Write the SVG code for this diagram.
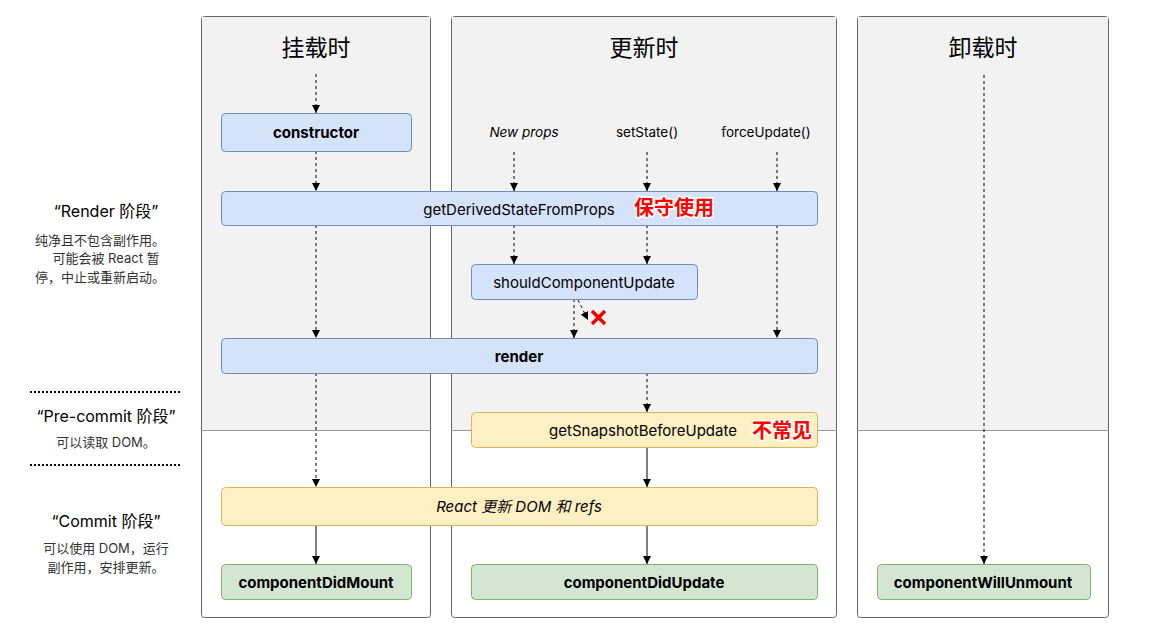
<svg xmlns="http://www.w3.org/2000/svg" width="1151" height="629" viewBox="0 0 1151 629">
<defs>
<marker id="arr" viewBox="0 0 10 10" refX="10" refY="5" markerWidth="8" markerHeight="8" markerUnits="userSpaceOnUse" orient="auto">
<path d="M0,0 L10,5 L0,10 Z" fill="#000"/>
</marker>
</defs>
<style>
text{font-family:"Inter","Liberation Sans","Noto Sans CJK SC",sans-serif;fill:#000}
.col{fill:#fff;stroke:#666;stroke-width:1}
.gray{fill:#f2f2f2}
.title{font-size:23px;text-anchor:middle}
.blue{fill:#d4e3fa;stroke:#6c8ebf;stroke-width:1}
.yel{fill:#fff0c4;stroke:#d6b656;stroke-width:1}
.grn{fill:#d3e6d2;stroke:#82b366;stroke-width:1}
.lbl{font-size:15px;text-anchor:middle;dominant-baseline:central}
.b{font-weight:bold}
.i{font-style:italic}
.sm{font-size:13.5px;text-anchor:middle;dominant-baseline:central}
.red{font-size:20px;font-weight:bold;fill:#ff0000;stroke:#fff;stroke-width:3px;paint-order:stroke;dominant-baseline:central}
.dash{stroke:#000;stroke-width:1;stroke-dasharray:3,3;fill:none;marker-end:url(#arr)}
.solid{stroke:#000;stroke-width:1;fill:none;marker-end:url(#arr)}
.ph{font-size:16px;text-anchor:middle;dominant-baseline:central}
.desc{font-size:13px;text-anchor:middle;dominant-baseline:central;fill:#333}
.dots{stroke:#000;stroke-width:2;stroke-dasharray:2,2}
</style>
<g id="columns">
<rect class="col" x="201.5" y="16.5" width="229" height="601" rx="3"/>
<path class="gray" d="M202,17 H430 V430 H202 Z"/>
<rect class="col" x="451.5" y="16.5" width="385" height="601" rx="3"/>
<path class="gray" d="M452,17 H836 V430 H452 Z"/>
<rect class="col" x="857.5" y="16.5" width="251" height="601" rx="3"/>
<path class="gray" d="M858,17 H1108 V430 H858 Z"/>
<line x1="201" y1="430.5" x2="431" y2="430.5" stroke="#999"/>
<line x1="451" y1="430.5" x2="837" y2="430.5" stroke="#999"/>
<line x1="857" y1="430.5" x2="1109" y2="430.5" stroke="#999"/>
<text class="title" x="316" y="56">挂载时</text>
<text class="title" x="644" y="56">更新时</text>
<text class="title" x="983" y="56">卸载时</text>
</g>
<g id="phases">
<text class="ph" x="106" y="211">“Render 阶段”</text>
<text class="desc" x="100" y="240">纯净且不包含副作用。</text>
<text class="desc" x="106" y="258">可能会被 React 暂</text>
<text class="desc" x="100" y="277">停，中止或重新启动。</text>
<line class="dots" x1="30" y1="392" x2="181" y2="392"/>
<text class="ph" x="106" y="416">“Pre-commit 阶段”</text>
<text class="desc" x="106" y="442">可以读取 DOM。</text>
<line class="dots" x1="30" y1="465" x2="181" y2="465"/>
<text class="ph" x="106" y="521">“Commit 阶段”</text>
<text class="desc" x="106" y="548">可以使用 DOM，运行</text>
<text class="desc" x="106" y="567">副作用，安排更新。</text>
</g>
<g id="triggers">
<text class="sm i" x="524" y="132">New props</text>
<text class="sm" x="647" y="132">setState()</text>
<text class="sm" x="766" y="132">forceUpdate()</text>
</g>
<g id="connectors">
<line class="dash" x1="316" y1="74" x2="316" y2="113"/>
<line class="dash" x1="316" y1="151" x2="316" y2="191"/>
<line class="dash" x1="316" y1="225" x2="316" y2="338"/>
<line class="dash" x1="316" y1="373" x2="316" y2="487"/>
<line class="solid" x1="316" y1="525" x2="316" y2="564"/>
<line class="dash" x1="514" y1="152" x2="514" y2="191"/>
<line class="dash" x1="647" y1="152" x2="647" y2="191"/>
<line class="dash" x1="777" y1="152" x2="777" y2="191"/>
<line class="dash" x1="514" y1="225" x2="514" y2="264"/>
<line class="dash" x1="647" y1="225" x2="647" y2="264"/>
<line class="dash" x1="777" y1="225" x2="777" y2="338"/>
<line class="dash" x1="574" y1="299" x2="574" y2="338"/>
<line class="dash" x1="578" y1="300" x2="588" y2="320"/>
<line class="dash" x1="647" y1="373" x2="647" y2="412"/>
<line class="solid" x1="647" y1="447" x2="647" y2="487"/>
<line class="solid" x1="647" y1="525" x2="647" y2="564"/>
<line class="dash" x1="984" y1="75" x2="984" y2="564"/>
<path d="M592,311 L605,324 M605,311 L592,324" stroke="#e00" stroke-width="3.5" fill="none"/>
</g>
<g id="constructor">
<rect class="blue" x="221.5" y="113.5" width="190" height="38" rx="4"/>
<text class="lbl b" x="316" y="132">constructor</text>
</g>
<g id="getDerivedStateFromProps">
<rect class="blue" x="221.5" y="191.5" width="596" height="34" rx="4"/>
<text class="lbl" x="519" y="209">getDerivedStateFromProps</text>
<text class="red" x="634" y="208">保守使用</text>
</g>
<g id="shouldComponentUpdate">
<rect class="blue" x="471.5" y="264.5" width="226" height="35" rx="4"/>
<text class="lbl" x="584" y="282">shouldComponentUpdate</text>
</g>
<g id="render">
<rect class="blue" x="221.5" y="338.5" width="596" height="35" rx="4"/>
<text class="lbl b" x="519" y="356">render</text>
</g>
<g id="getSnapshotBeforeUpdate">
<rect class="yel" x="471.5" y="412.5" width="346" height="35" rx="4"/>
<text class="lbl" x="643" y="430">getSnapshotBeforeUpdate</text>
<text class="red" x="752" y="431">不常见</text>
</g>
<g id="reactUpdatesDOM">
<rect class="yel" x="221.5" y="487.5" width="596" height="38" rx="4"/>
<text class="lbl i" x="519" y="506">React 更新 DOM 和 refs</text>
</g>
<g id="componentDidMount">
<rect class="grn" x="221.5" y="564.5" width="190" height="35" rx="4"/>
<text class="lbl b" x="316" y="582">componentDidMount</text>
</g>
<g id="componentDidUpdate">
<rect class="grn" x="471.5" y="564.5" width="346" height="35" rx="4"/>
<text class="lbl b" x="644" y="582">componentDidUpdate</text>
</g>
<g id="componentWillUnmount">
<rect class="grn" x="877.5" y="564.5" width="213" height="35" rx="4"/>
<text class="lbl b" x="983" y="582">componentWillUnmount</text>
</g>
</svg>
